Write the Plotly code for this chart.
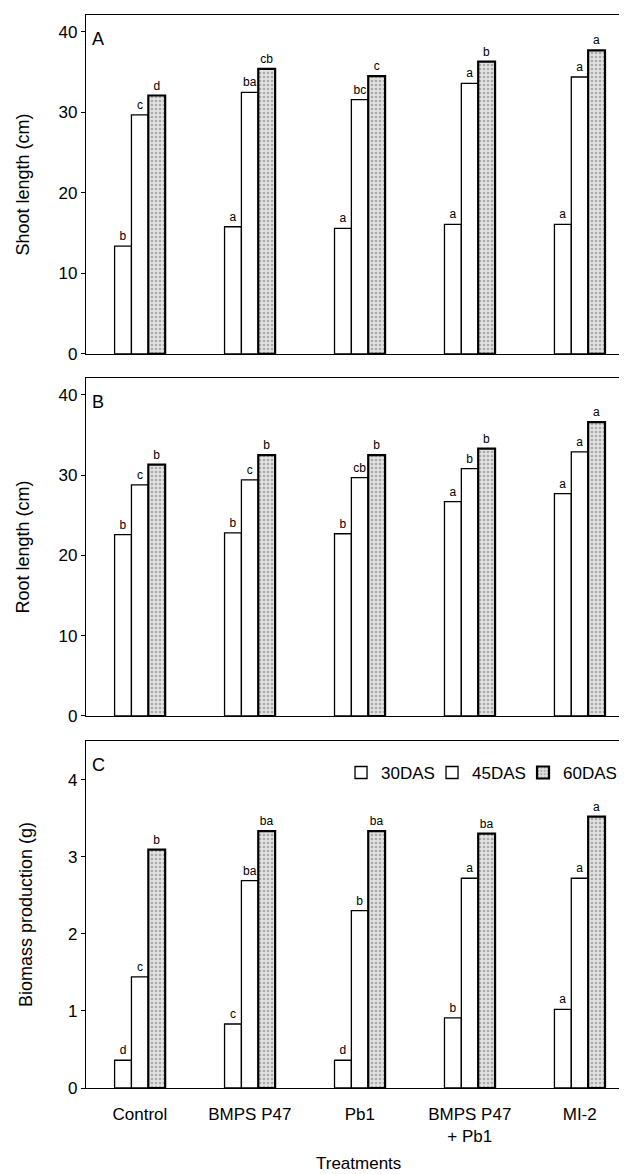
import plotly.graph_objects as go

treatments = ["Control", "BMPS P47", "Pb1", "BMPS P47<br>+ Pb1", "MI-2"]
series = ["30DAS", "45DAS", "60DAS"]

shoot_30 = [13.4, 15.8, 15.6, 16.1, 16.1]
shoot_45 = [29.7, 32.5, 31.6, 33.6, 34.4]
shoot_60 = [32.1, 35.4, 34.5, 36.3, 37.7]
shoot_lbl_30 = ["b", "a", "a", "a", "a"]
shoot_lbl_45 = ["c", "ba", "bc", "a", "a"]
shoot_lbl_60 = ["d", "cb", "c", "b", "a"]

root_30 = [22.6, 22.8, 22.7, 26.7, 27.7]
root_45 = [28.8, 29.4, 29.7, 30.8, 32.9]
root_60 = [31.3, 32.5, 32.5, 33.3, 36.6]
root_lbl_30 = ["b", "b", "b", "a", "a"]
root_lbl_45 = ["c", "c", "cb", "b", "a"]
root_lbl_60 = ["b", "b", "b", "b", "a"]

bio_30 = [0.36, 0.83, 0.36, 0.91, 1.02]
bio_45 = [1.44, 2.69, 2.30, 2.72, 2.72]
bio_60 = [3.09, 3.33, 3.33, 3.30, 3.52]
bio_lbl_30 = ["d", "c", "d", "b", "a"]
bio_lbl_45 = ["c", "ba", "b", "a", "a"]
bio_lbl_60 = ["b", "ba", "ba", "ba", "a"]

FONT = "Liberation Sans, Arial, sans-serif"

panels = [
    dict(vals=[shoot_30, shoot_45, shoot_60], lbls=[shoot_lbl_30, shoot_lbl_45, shoot_lbl_60],
         title="Shoot length (cm)", rng=[0, 42.1], dtick=10, letter="A", dom=[0.6841, 1.0], standoff=24),
    dict(vals=[root_30, root_45, root_60], lbls=[root_lbl_30, root_lbl_45, root_lbl_60],
         title="Root length (cm)", rng=[0, 42.1], dtick=10, letter="B", dom=[0.3467, 0.6617], standoff=24),
    dict(vals=[bio_30, bio_45, bio_60], lbls=[bio_lbl_30, bio_lbl_45, bio_lbl_60],
         title="Biomass production (g)", rng=[0, 4.5], dtick=1, letter="C", dom=[0.0, 0.3234], standoff=30),
]

styles = [
    dict(color="white", line=dict(color="black", width=1.3)),
    dict(color="white", line=dict(color="black", width=1.3)),
    dict(color="#e2e2e2", line=dict(color="black", width=2.2),
         pattern=dict(shape=".", fgcolor="#6f6f6f", bgcolor="#e2e2e2", size=4, solidity=0.35)),
]
legend_widths = [46, 46, 62]

lblfont = dict(size=12, color="black", family=FONT)

fig = go.Figure()
for i, p in enumerate(panels):
    ax = "" if i == 0 else str(i + 1)
    for j in range(3):
        fig.add_trace(go.Bar(
            x=list(range(len(treatments))), y=p["vals"][j], name=series[j],
            text=p["lbls"][j], textposition="outside", cliponaxis=False,
            textfont=lblfont, outsidetextfont=lblfont,
            marker=styles[j], xaxis="x" + ax, yaxis="y" + ax,
            legendgroup=series[j], showlegend=(i == 2), legendwidth=legend_widths[j],
        ))
    fig.layout["yaxis" + ax] = dict(
        domain=p["dom"], range=p["rng"], dtick=p["dtick"], showgrid=False, zeroline=False,
        showline=True, linecolor="black", linewidth=1.3, ticks="outside", ticklen=4,
        tickcolor="black", tickfont=dict(size=17, color="black", family=FONT),
        title=dict(text=p["title"], font=dict(size=18, color="black", family=FONT), standoff=p["standoff"]),
        anchor="x" + ax, automargin=False,
    )
    fig.layout["xaxis" + ax] = dict(
        range=[-0.49, 4.43], showgrid=False, zeroline=False, showline=True, mirror=True,
        linecolor="black", linewidth=1.3, ticks="", anchor="y" + ax, automargin=False,
        tickmode="array", tickvals=list(range(len(treatments))),
        ticktext=treatments if i == 2 else [""] * len(treatments),
        showticklabels=(i == 2), tickfont=dict(size=17, color="black", family=FONT),
        ticklabelstandoff=10,
    )
    fig.add_annotation(text=p["letter"], xref="x" + ax + " domain", yref="y" + ax + " domain",
                       x=0.008, y=0.93, xanchor="left", yanchor="middle",
                       showarrow=False, font=dict(size=18, color="black", family=FONT))

fig.add_annotation(text="Treatments", xref="paper", yref="paper", x=0.503, y=-0.0708,
                   xanchor="center", yanchor="middle", showarrow=False,
                   font=dict(size=17, color="black", family=FONT))

fig.update_layout(
    width=619, height=1166, margin=dict(l=78, r=0, t=7, b=86, autoexpand=False),
    plot_bgcolor="white", paper_bgcolor="white",
    barmode="group", bargap=0.54, bargroupgap=0.0,
    font=dict(family=FONT, color="black"),
    legend=dict(orientation="h", x=0.4714, y=0.2936, xanchor="left", yanchor="middle",
                font=dict(size=17, color="black", family=FONT), bgcolor="rgba(0,0,0,0)",
                itemwidth=30, tracegroupgap=0),
)

fig.write_html("out.html")
